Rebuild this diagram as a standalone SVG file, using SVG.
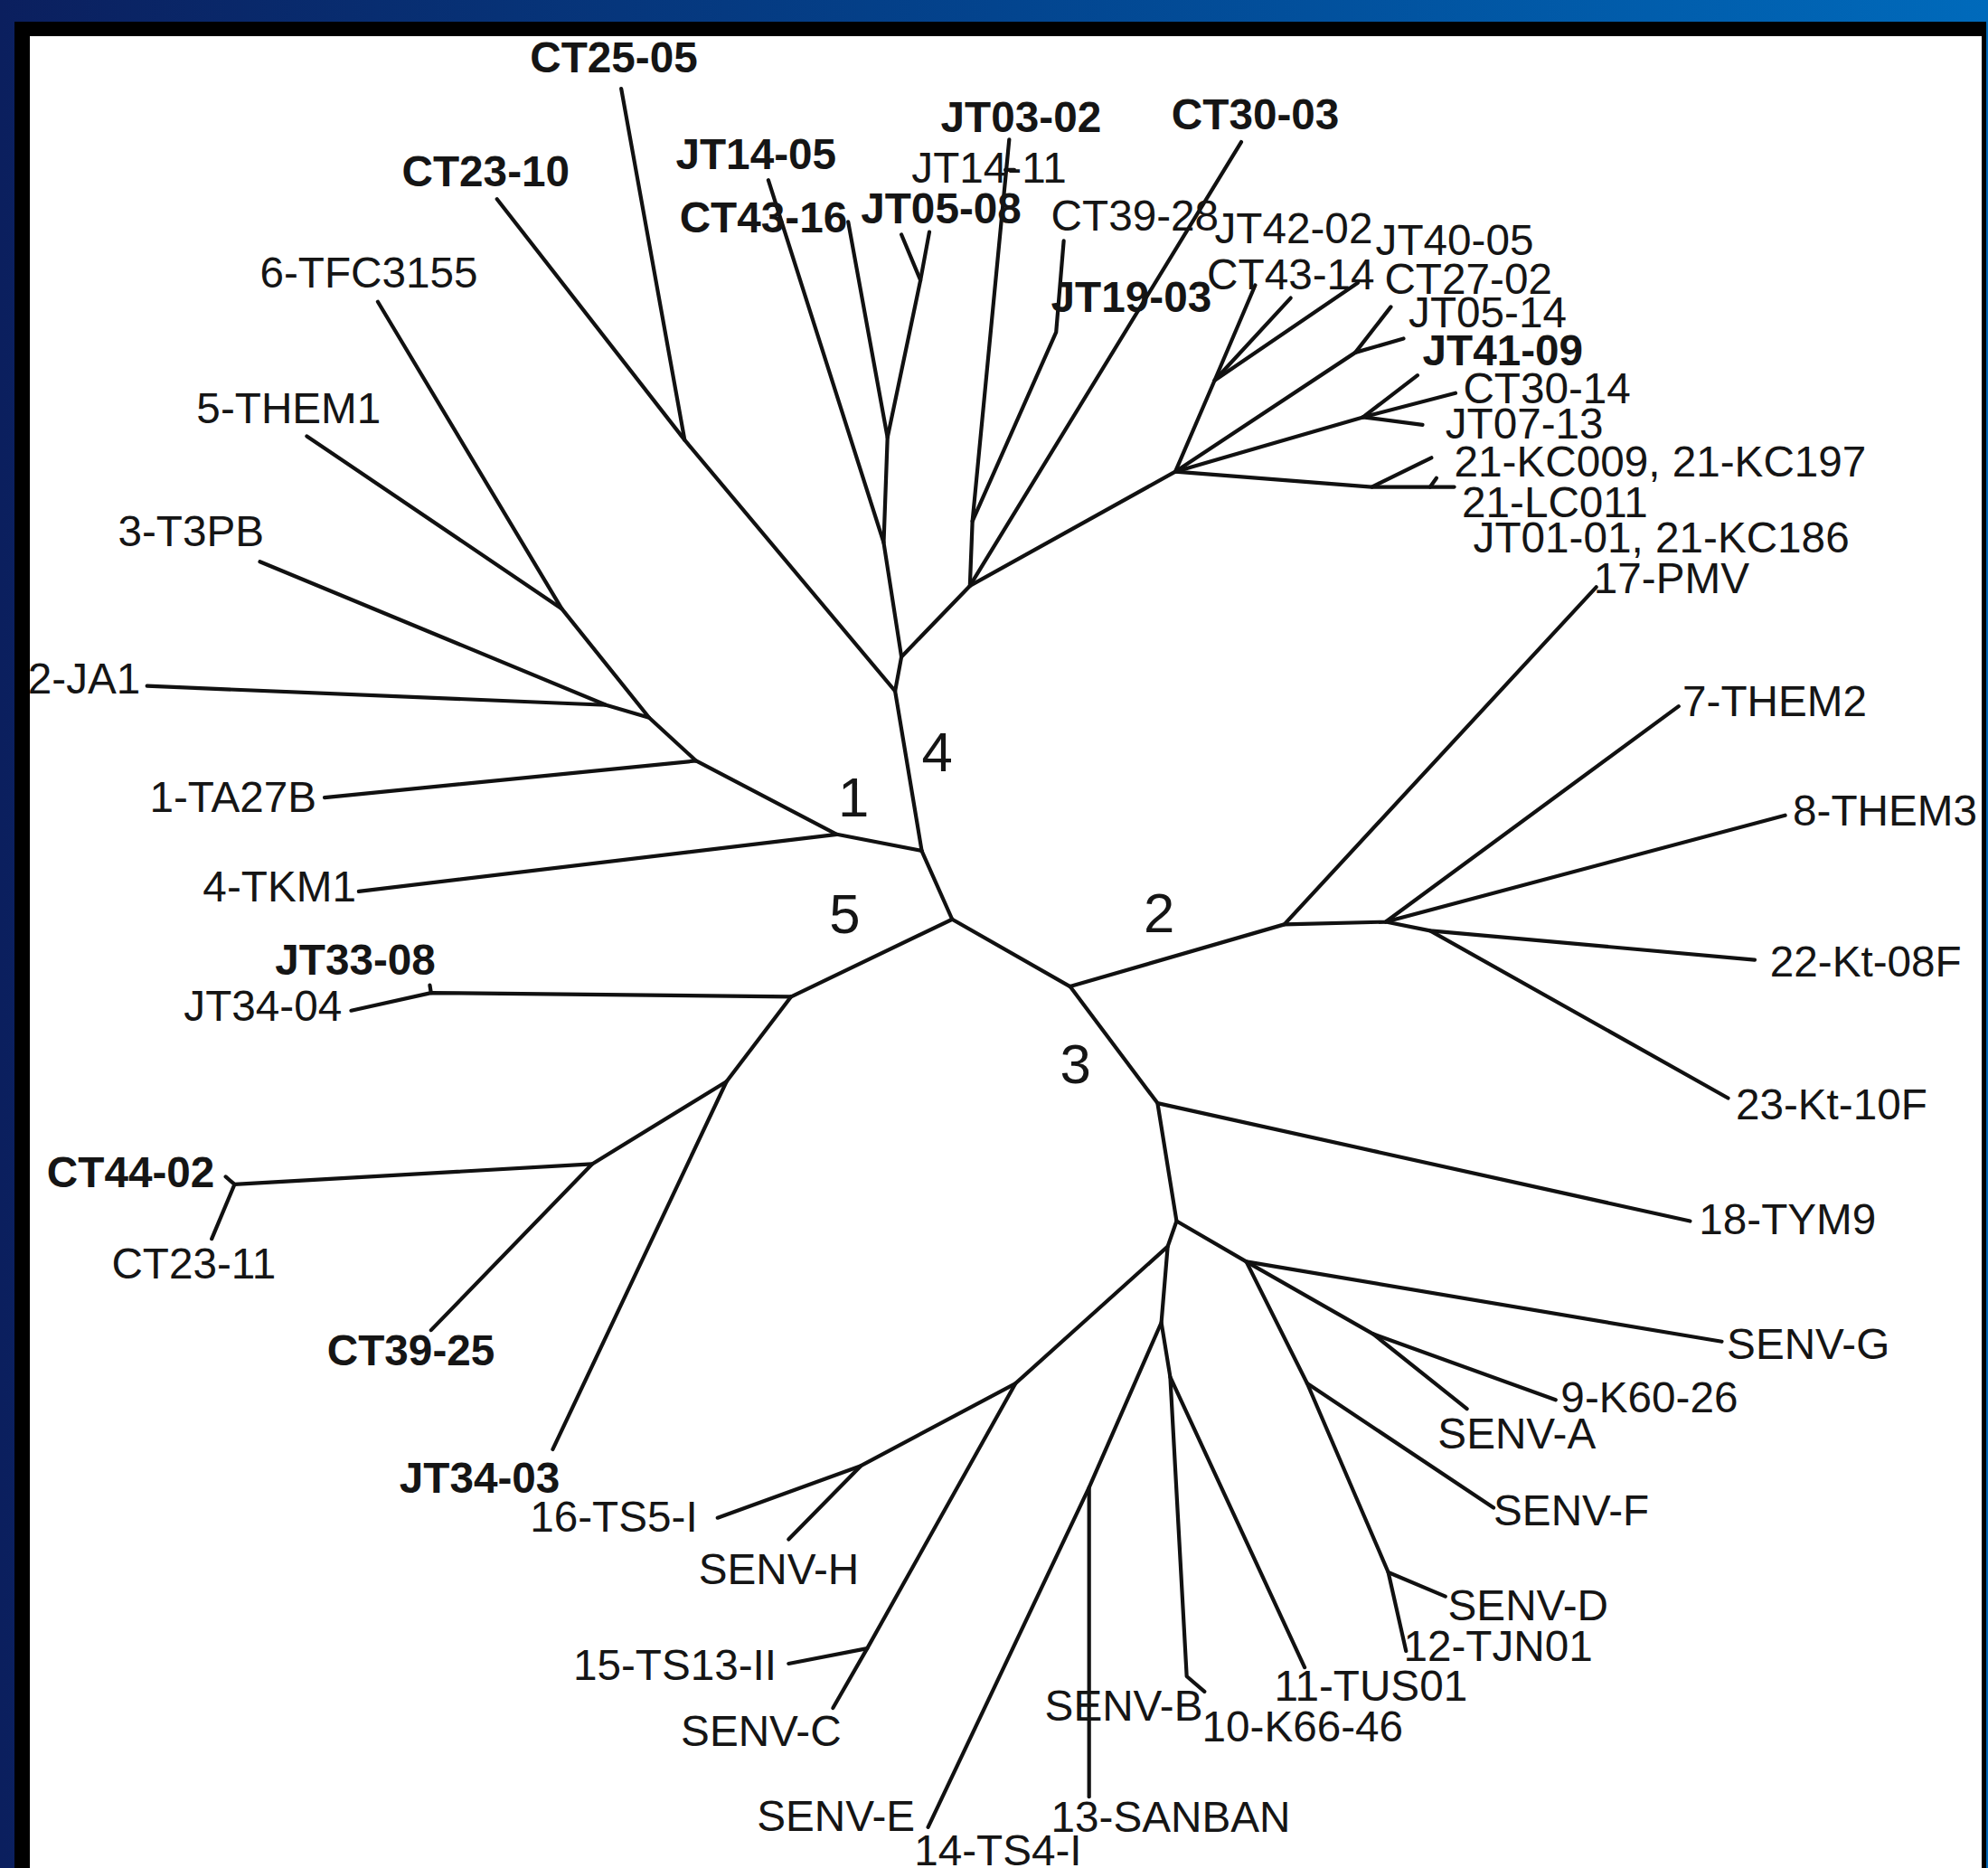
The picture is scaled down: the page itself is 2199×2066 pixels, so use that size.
<svg xmlns="http://www.w3.org/2000/svg" width="2199" height="2066" viewBox="0 0 2199 2066">
<defs>
<linearGradient id="bg" gradientUnits="userSpaceOnUse" x1="0" y1="0" x2="2199" y2="0">
<stop offset="0" stop-color="#0b1f5e"/>
<stop offset="0.5" stop-color="#03448e"/>
<stop offset="1" stop-color="#006abb"/>
</linearGradient>
<style>
.e{fill:none;stroke:#111;stroke-width:3;stroke-linecap:round;stroke-linejoin:round}
.t{font-family:"Liberation Sans",Arial,Helvetica,sans-serif;font-size:34px;fill:#151515}
.b{font-weight:bold}
.num{font-family:"Liberation Sans",Arial,Helvetica,sans-serif;font-size:44px;fill:#151515}
</style>
</defs>
<rect x="0" y="0" width="2199" height="2066" fill="url(#bg)"/>
<rect x="33" y="40" width="2159" height="2026" fill="#ffffff"/>
<g transform="scale(1.40242)">
<g id="connectors">
<path class="e" d="M751 725 L727 671"/>
<path class="e" d="M751 725 L844 778"/>
<path class="e" d="M751 725 L624 786"/>
<path class="e" d="M727 671 L660 658 L283 703"/>
<path class="e" d="M660 658 L549 600 L256 629"/>
<path class="e" d="M549 600 L512 566 L478 556 L205 443"/>
<path class="e" d="M478 556 L116 541"/>
<path class="e" d="M512 566 L443 480 L298 238"/>
<path class="e" d="M443 480 L242 344"/>
<path class="e" d="M727 671 L706 545 L540 347 L392 157"/>
<path class="e" d="M540 347 L490 70"/>
<path class="e" d="M706 545 L711 518 L697 428 L606 142"/>
<path class="e" d="M697 428 L700 345 L669 175"/>
<path class="e" d="M700 345 L726 221 L711 185"/>
<path class="e" d="M726 221 L733 183"/>
<path class="e" d="M711 518 L765 462 L767 411 L796 110"/>
<path class="e" d="M793 134 L800 134"/>
<path class="e" d="M767 411 L833 262 L839 190"/>
<path class="e" d="M765 462 L979 112"/>
<path class="e" d="M765 462 L927 372 L958 300 L990 225"/>
<path class="e" d="M958 300 L1018 235"/>
<path class="e" d="M958 300 L1071 223"/>
<path class="e" d="M927 372 L1069 278 L1097 242"/>
<path class="e" d="M1069 278 L1107 267"/>
<path class="e" d="M927 372 L1075 329 L1118 296"/>
<path class="e" d="M1075 329 L1148 310"/>
<path class="e" d="M1075 329 L1122 335"/>
<path class="e" d="M927 372 L1082 384 L1129 361"/>
<path class="e" d="M1082 384 L1147 384"/>
<path class="e" d="M1128 384 L1133 377"/>
<path class="e" d="M844 778 L1013 729 L1259 463"/>
<path class="e" d="M1013 729 L1093 727 L1324 557"/>
<path class="e" d="M1093 727 L1408 643"/>
<path class="e" d="M1093 727 L1128 734 L1384 757"/>
<path class="e" d="M1128 734 L1363 866"/>
<path class="e" d="M844 778 L913 870 L1333 963"/>
<path class="e" d="M913 870 L928 963 L983 995 L1358 1058"/>
<path class="e" d="M983 995 L1083 1052 L1227 1104"/>
<path class="e" d="M1083 1052 L1157 1111"/>
<path class="e" d="M983 995 L1031 1091 L1178 1189"/>
<path class="e" d="M1031 1091 L1095 1240 L1140 1259"/>
<path class="e" d="M1095 1240 L1109 1302"/>
<path class="e" d="M928 963 L921 983 L801 1091 L679 1156 L566 1197"/>
<path class="e" d="M679 1156 L622 1214"/>
<path class="e" d="M801 1091 L684 1300 L622 1312"/>
<path class="e" d="M684 1300 L657 1347"/>
<path class="e" d="M921 983 L916 1043 L859 1173 L732 1441"/>
<path class="e" d="M859 1173 L859 1417"/>
<path class="e" d="M916 1043 L923 1086 L936 1322 L950 1334"/>
<path class="e" d="M923 1086 L1029 1315"/>
<path class="e" d="M624 786 L340 783 L277 797"/>
<path class="e" d="M340 783 L339 777"/>
<path class="e" d="M624 786 L573 853 L467 918 L340 1049"/>
<path class="e" d="M467 918 L185 934 L178 928"/>
<path class="e" d="M185 934 L167 977"/>
<path class="e" d="M573 853 L436 1143"/>
</g>
<g id="n-CT25-05"><text class="t b" x="418" y="57">CT25-05</text></g>
<g id="n-CT23-10"><text class="t b" x="317" y="147">CT23-10</text></g>
<g id="n-6-TFC3155"><text class="t" x="205" y="227">6-TFC3155</text></g>
<g id="n-5-THEM1"><text class="t" x="155" y="334">5-THEM1</text></g>
<g id="n-3-T3PB"><text class="t" x="93" y="431">3-T3PB</text></g>
<g id="n-2-JA1"><text class="t" x="22" y="547">2-JA1</text></g>
<g id="n-1-TA27B"><text class="t" x="118" y="640">1-TA27B</text></g>
<g id="n-4-TKM1"><text class="t" x="160" y="711">4-TKM1</text></g>
<g id="n-JT14-05"><text class="t b" x="533" y="133">JT14-05</text></g>
<g id="n-CT43-16"><text class="t b" x="536" y="183">CT43-16</text></g>
<g id="n-JT05-08"><text class="t b" x="679" y="176">JT05-08</text></g>
<g id="n-JT03-02"><text class="t b" x="742" y="104">JT03-02</text></g>
<g id="n-JT14-11"><text class="t" x="719" y="144">JT14-11</text></g>
<g id="n-CT39-28"><text class="t" x="829" y="182">CT39-28</text></g>
<g id="n-CT30-03"><text class="t b" x="924" y="102">CT30-03</text></g>
<g id="n-JT19-03"><text class="t b" x="829" y="246">JT19-03</text></g>
<g id="n-JT42-02"><text class="t" x="958" y="192">JT42-02</text></g>
<g id="n-JT40-05"><text class="t" x="1085" y="201">JT40-05</text></g>
<g id="n-CT43-14"><text class="t" x="952" y="228">CT43-14</text></g>
<g id="n-CT27-02"><text class="t" x="1092" y="232">CT27-02</text></g>
<g id="n-JT05-14"><text class="t" x="1111" y="258">JT05-14</text></g>
<g id="n-JT41-09"><text class="t b" x="1122" y="288">JT41-09</text></g>
<g id="n-CT30-14"><text class="t" x="1154" y="318">CT30-14</text></g>
<g id="n-JT07-13"><text class="t" x="1140" y="346">JT07-13</text></g>
<g id="n-21-KC009"><text class="t" x="1147" y="376">21-KC009, 21-KC197</text></g>
<g id="n-21-LC011"><text class="t" x="1153" y="408">21-LC011</text></g>
<g id="n-JT01-01"><text class="t" x="1162" y="436">JT01-01, 21-KC186</text></g>
<g id="n-17-PMV"><text class="t" x="1257" y="468">17-PMV</text></g>
<g id="n-7-THEM2"><text class="t" x="1327" y="565">7-THEM2</text></g>
<g id="n-8-THEM3"><text class="t" x="1414" y="651">8-THEM3</text></g>
<g id="n-22-Kt-08F"><text class="t" x="1396" y="770">22-Kt-08F</text></g>
<g id="n-23-Kt-10F"><text class="t" x="1369" y="883">23-Kt-10F</text></g>
<g id="n-18-TYM9"><text class="t" x="1340" y="973">18-TYM9</text></g>
<g id="n-SENV-G"><text class="t" x="1362" y="1072">SENV-G</text></g>
<g id="n-9-K60-26"><text class="t" x="1231" y="1114">9-K60-26</text></g>
<g id="n-SENV-A"><text class="t" x="1134" y="1142">SENV-A</text></g>
<g id="n-SENV-F"><text class="t" x="1178" y="1203">SENV-F</text></g>
<g id="n-SENV-D"><text class="t" x="1142" y="1278">SENV-D</text></g>
<g id="n-12-TJN01"><text class="t" x="1107" y="1310">12-TJN01</text></g>
<g id="n-11-TUS01"><text class="t" x="1005" y="1341">11-TUS01</text></g>
<g id="n-10-K66-46"><text class="t" x="948" y="1373">10-K66-46</text></g>
<g id="n-SENV-B"><text class="t" x="824" y="1357">SENV-B</text></g>
<g id="n-13-SANBAN"><text class="t" x="829" y="1445">13-SANBAN</text></g>
<g id="n-14-TS4-I"><text class="t" x="721" y="1471">14-TS4-I</text></g>
<g id="n-SENV-E"><text class="t" x="597" y="1444">SENV-E</text></g>
<g id="n-SENV-C"><text class="t" x="537" y="1377">SENV-C</text></g>
<g id="n-15-TS13-II"><text class="t" x="452" y="1325">15-TS13-II</text></g>
<g id="n-SENV-H"><text class="t" x="551" y="1249">SENV-H</text></g>
<g id="n-16-TS5-I"><text class="t" x="418" y="1208">16-TS5-I</text></g>
<g id="n-JT34-03"><text class="t b" x="315" y="1177">JT34-03</text></g>
<g id="n-CT39-25"><text class="t b" x="258" y="1077">CT39-25</text></g>
<g id="n-CT23-11"><text class="t" x="88" y="1008">CT23-11</text></g>
<g id="n-CT44-02"><text class="t b" x="37" y="936">CT44-02</text></g>
<g id="n-JT34-04"><text class="t" x="145" y="805">JT34-04</text></g>
<g id="n-JT33-08"><text class="t b" x="217" y="769">JT33-08</text></g>
<g id="g-1"><text class="num" x="661" y="644">1</text></g>
<g id="g-2"><text class="num" x="902" y="735">2</text></g>
<g id="g-3"><text class="num" x="836" y="854">3</text></g>
<g id="g-4"><text class="num" x="727" y="608">4</text></g>
<g id="g-5"><text class="num" x="654" y="736">5</text></g>
</g>
<g id="frame">
<rect x="0" y="0" width="2199" height="24" fill="url(#bg)"/>
<rect x="0" y="0" width="16" height="2066" fill="url(#bg)"/>
<rect x="2197" y="0" width="2" height="2066" fill="url(#bg)"/>
<rect x="16" y="24" width="2181" height="16" fill="#000"/>
<rect x="16" y="24" width="17" height="2042" fill="#000"/>
<rect x="2192" y="24" width="5" height="2042" fill="#000"/>
</g>
</svg>
